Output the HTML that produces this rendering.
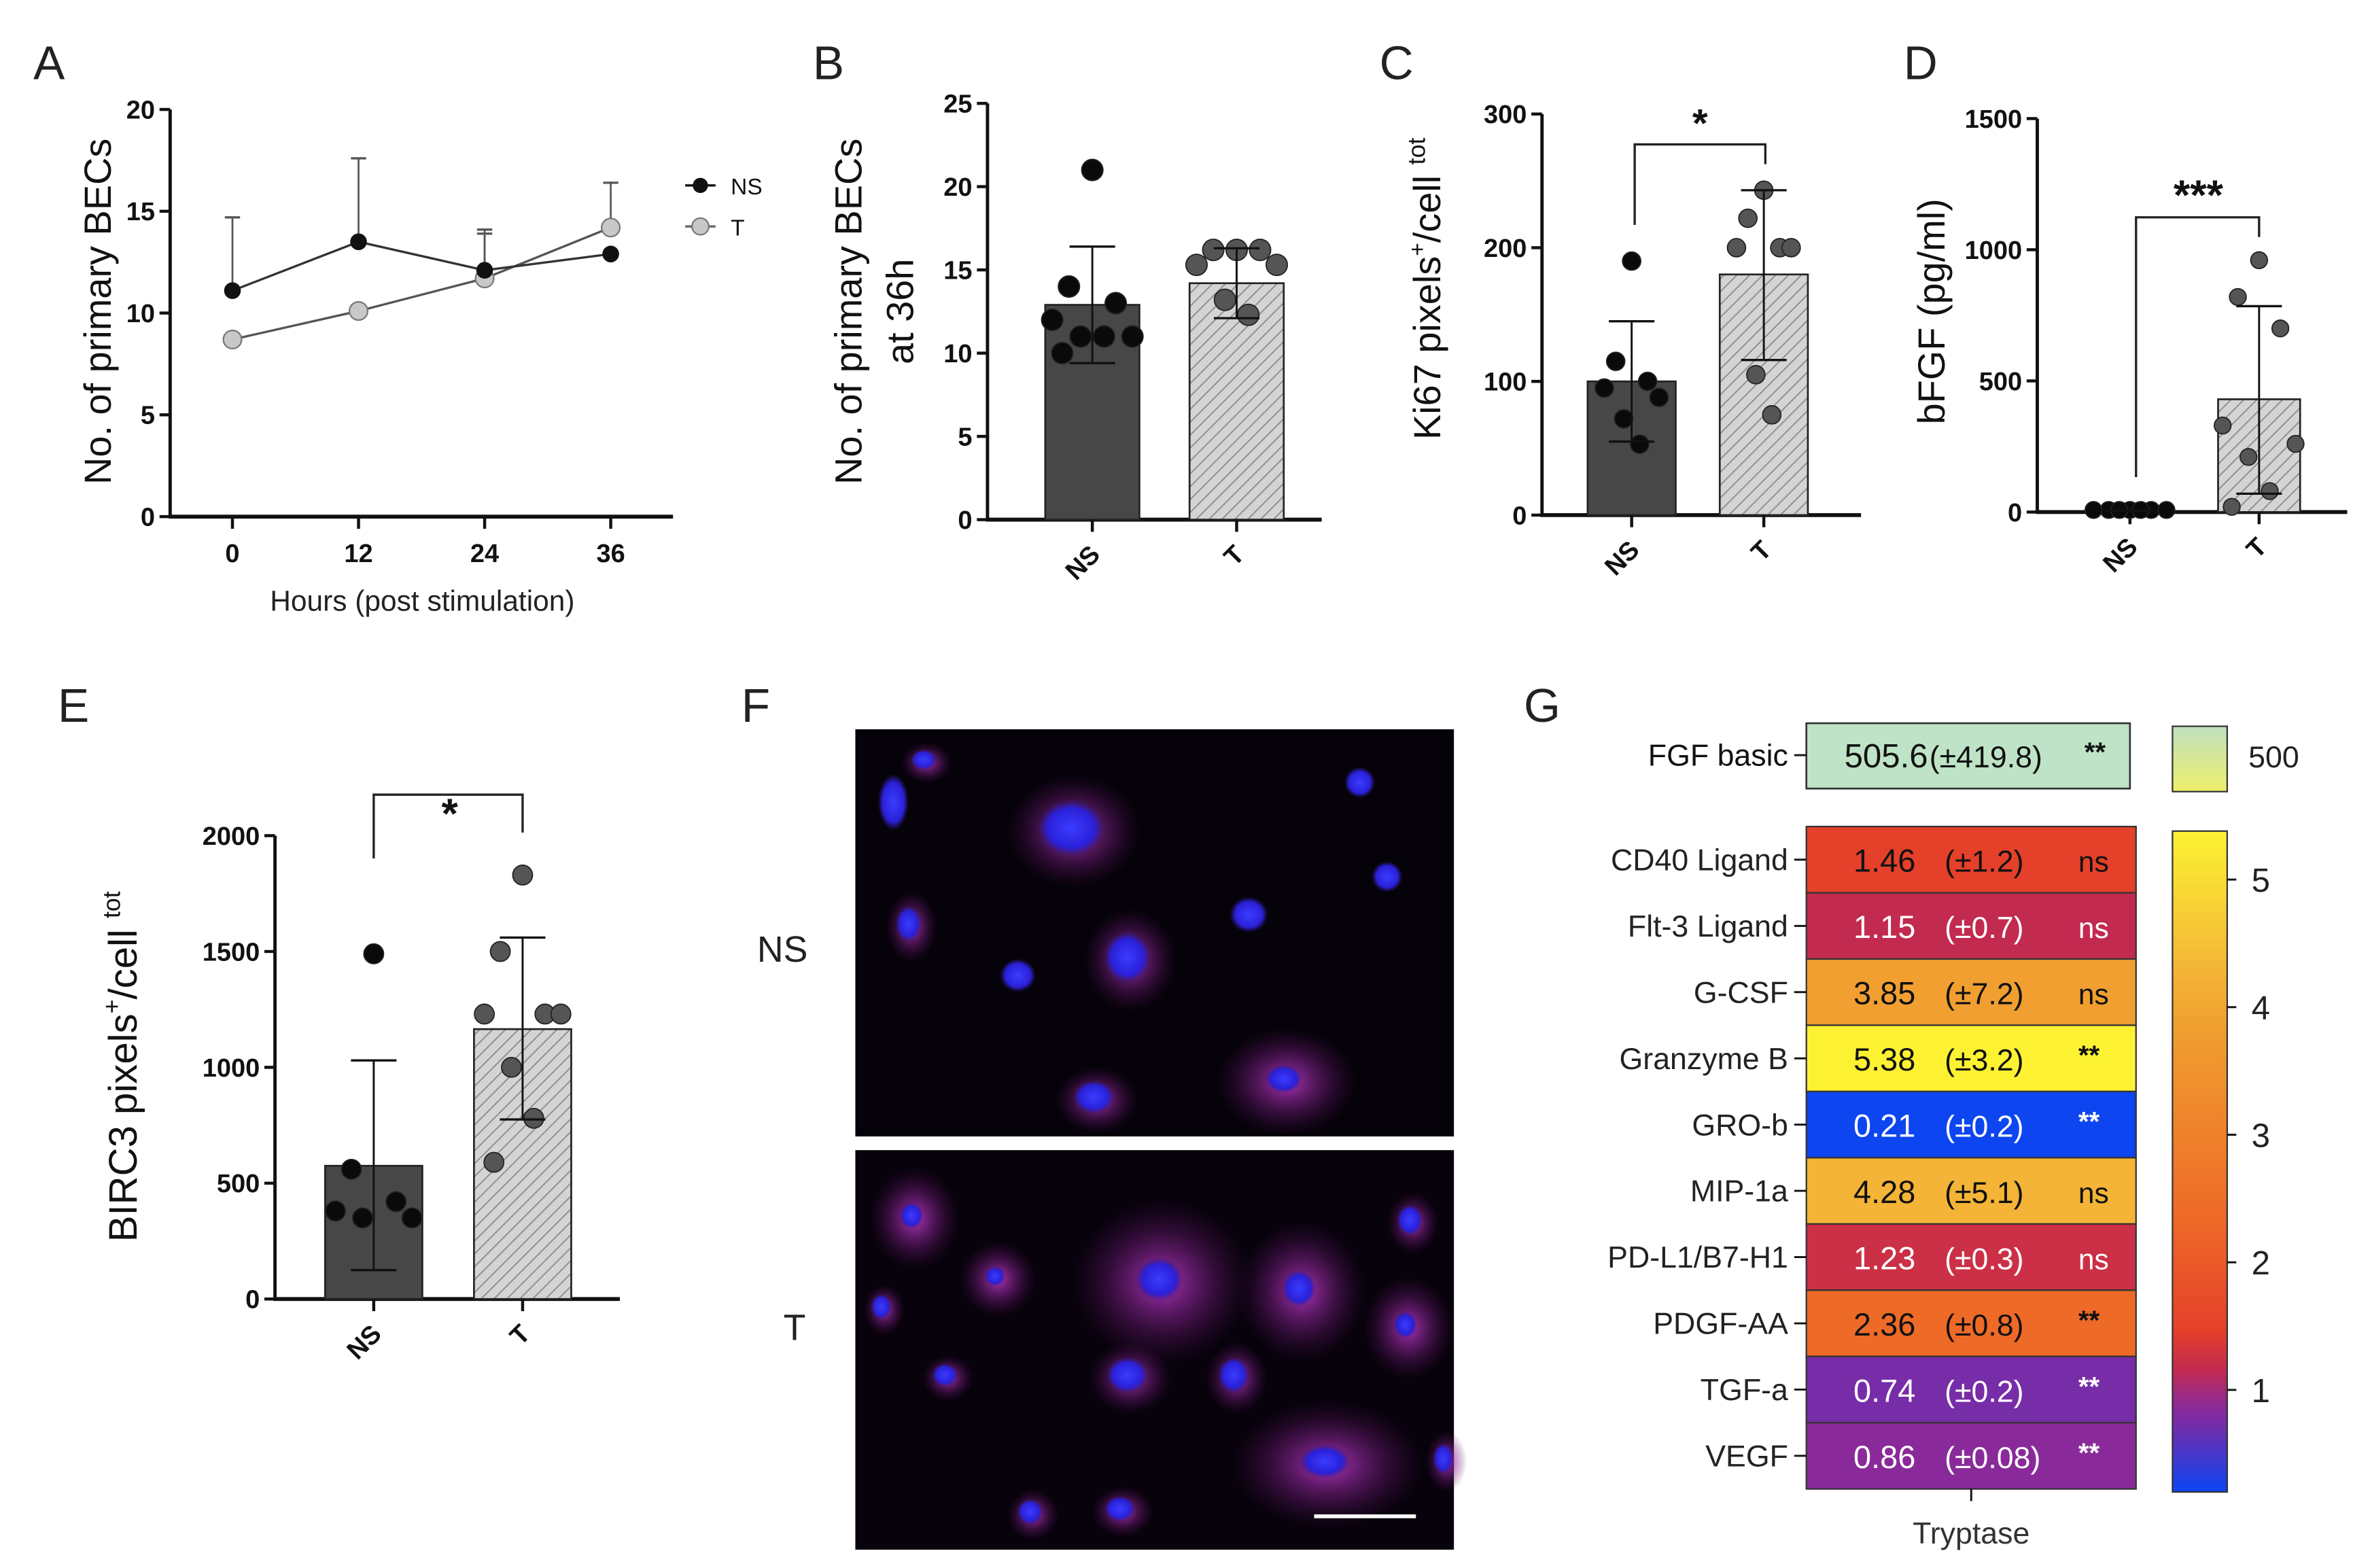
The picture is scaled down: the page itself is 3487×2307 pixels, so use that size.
<!DOCTYPE html>
<html><head><meta charset="utf-8"><style>
html,body{margin:0;padding:0;background:#fff;}
svg{display:block;font-family:"Liberation Sans",Arial,sans-serif;}
</style></head><body>
<svg id="fig" width="3487" height="2307" viewBox="0 0 1560 1032" xmlns="http://www.w3.org/2000/svg">
<defs>
<pattern id="hatch" patternUnits="userSpaceOnUse" width="6" height="6" patternTransform="rotate(45)">
<rect width="6" height="6" fill="#d4d4d4"/><line x1="0" y1="0" x2="0" y2="6" stroke="#8a8a8a" stroke-width="1.6"/>
</pattern>
<radialGradient id="cellMag" cx="50%" cy="50%" r="50%"><stop offset="0%" stop-color="#c03ad0" stop-opacity="0.9"/><stop offset="100%" stop-color="#5a1060" stop-opacity="0"/></radialGradient>
<radialGradient id="cellBlue" cx="50%" cy="50%" r="50%"><stop offset="0%" stop-color="#3a3cff"/><stop offset="70%" stop-color="#2a20d8"/><stop offset="100%" stop-color="#301890" stop-opacity="0"/></radialGradient>
<linearGradient id="smallbar" x1="0" y1="0" x2="0" y2="1"><stop offset="0%" stop-color="#bfe0c0"/><stop offset="100%" stop-color="#eef06a"/></linearGradient>
</defs>
<g id="root"></g>
</svg>
<script>
// ---------- DATA ----------
const hoursA = [0, 12, 24, 36];
const nsMeanA = [11.1, 13.5, 12.1, 12.9];
const nsErrTopA = [14.7, 17.6, 14.1, 12.9];
const tMeanA = [8.7, 10.1, 11.7, 14.2];
const tErrTopA = [8.7, 10.1, 13.9, 16.4];
const ticksA = [0, 5, 10, 15, 20];

const ticksB = [0, 5, 10, 15, 20, 25];
const meansB = [12.9, 14.2];
const errLoB = [9.4, 12.1];
const errHiB = [16.4, 16.3];
const ptsBNS = [21, 14, 13, 12, 11, 11, 11, 10];
const ptsBT = [16.2, 16.2, 16.2, 15.3, 15.3, 13.2, 12.3];

const ticksC = [0, 100, 200, 300];
const meansC = [100, 180];
const errLoC = [55, 116];
const errHiC = [145, 243];
const ptsCNS = [190, 115, 100, 95, 88, 72, 53];
const ptsCT = [243, 222, 200, 200, 200, 105, 75];

const ticksD = [0, 500, 1000, 1500];
const meansD = [6, 430];
const errLoD = [6, 70];
const errHiD = [6, 785];
const ptsDNS = [8, 8, 8, 8, 8, 8, 8];
const ptsDT = [960, 820, 700, 330, 260, 210, 80, 20];

const ticksE = [0, 500, 1000, 1500, 2000];
const meansE = [575, 1165];
const errLoE = [125, 775];
const errHiE = [1030, 1560];
const ptsENS = [1490, 560, 420, 380, 350, 350];
const ptsET = [1830, 1500, 1230, 1230, 1230, 1000, 780, 590];

const rowsG = ["CD40 Ligand","Flt-3 Ligand","G-CSF","Granzyme B","GRO-b","MIP-1a","PD-L1/B7-H1","PDGF-AA","TGF-a","VEGF"];
const valsG = [1.46, 1.15, 3.85, 5.38, 0.21, 4.28, 1.23, 2.36, 0.74, 0.86];
const sdG = ["±1.2","±0.7","±7.2","±3.2","±0.2","±5.1","±0.3","±0.8","±0.2","±0.08"];
const sigG = ["ns","ns","ns","**","**","ns","ns","**","**","**"];
const cbTicksG = [1, 2, 3, 4, 5];

// ---------- HELPERS ----------
const SVGNS = "http://www.w3.org/2000/svg";
const root = document.getElementById('root');
function mk(tag, attrs, name, parent) {
  const el = document.createElementNS(SVGNS, tag);
  for (const k in attrs) el.setAttribute(k, attrs[k]);
  
  
  (parent || root).appendChild(el);
  return el;
}
function tx(x, y, s, size, name, extra, parent) {
  const a = Object.assign({x: x, y: y, 'font-size': size, fill: '#111'}, extra || {});
  const el = mk('text', a, name, parent);
  el.textContent = s;
  return el;
}
function ln(x1, y1, x2, y2, w, name, col, parent) {
  return mk('line', {x1: x1, y1: y1, x2: x2, y2: y2, stroke: col || '#111', 'stroke-width': w}, name, parent);
}
function yAxis(ax, y0, ytop, vmax, ticks, fmt, name) {
  const sc = v => y0 - v * (y0 - ytop) / vmax;
  ln(ax, y0 + 1, ax, ytop, 2.2, name + '-line');
  ticks.forEach(t => {
    ln(ax - 7, sc(t), ax, sc(t), 2, name + '-tick');
    tx(ax - 10, sc(t) + 6, String(t), 17, name + '-tick-label', {'text-anchor': 'end', 'font-weight': 'bold'});
  });
  return sc;
}
function jitter(i) { const o = [0, -14, 14, -24, 24, -7, 7, -18, 18]; return o[i % o.length]; }
function barPanel(p) {
  const sc = yAxis(p.ax, p.y0, p.ytop, p.vmax, p.ticks, null, p.name + '-y-axis');
  ln(p.ax - 1, p.y0, p.xend, p.y0, 2.6, p.name + '-x-axis');
  p.cx.forEach((c, i) => {
    const top = sc(p.means[i]);
    mk('rect', {x: c - p.hw, y: top, width: 2 * p.hw, height: p.y0 - top,
      fill: i === 0 ? '#474747' : 'url(#hatch)', stroke: '#222', 'stroke-width': 1.2}, p.name + (i === 0 ? '-bar-ns' : '-bar-t'));
    ln(c, p.y0, c, p.y0 + 8, 2, p.name + '-x-tick');
    const pts = i === 0 ? p.ptsNS : p.ptsT;
    pts.forEach((v, j) => {
      mk('circle', {cx: c + jitter(j) * p.spread, cy: sc(v), r: p.r, fill: i === 0 ? '#0a0a0a' : '#555', stroke: '#222', 'stroke-width': 0.8}, p.name + (i === 0 ? '-point-ns' : '-point-t'));
    });
    ln(c, sc(p.lo[i]), c, sc(p.hi[i]), 1.3, p.name + '-error-bar');
    ln(c - 15, sc(p.hi[i]), c + 15, sc(p.hi[i]), 1.5, p.name + '-error-cap');
    ln(c - 15, sc(p.lo[i]), c + 15, sc(p.lo[i]), 1.5, p.name + '-error-cap');
    const lab = i === 0 ? 'NS' : 'T';
    tx(c + 6, p.y0 + 24, lab, 17, p.name + '-x-label', {'text-anchor': 'end', 'font-weight': 'bold', transform: 'rotate(-45 ' + (c + 6) + ' ' + (p.y0 + 24) + ')'});
  });
  return sc;
}

// ---------- PANEL LETTERS ----------
[['A',22,52],['B',535,52],['C',908,52],['D',1253,52],['E',38,475],['F',488,475],['G',1003,475]].forEach(l => {
  tx(l[1], l[2], l[0], 31, 'panel-label-' + l[0].toLowerCase(), {fill: '#222'});
});

// ---------- PANEL A ----------
(function () {
  const ax = 112, y0 = 340, ytop = 72;
  const sy = yAxis(ax, y0, ytop, 20, ticksA, null, 'a-y-axis');
  const sx = h => 153 + h * (249 / 36);
  ln(ax - 1, y0, 443, y0, 2.6, 'a-x-axis');
  hoursA.forEach(h => {
    ln(sx(h), y0, sx(h), y0 + 8, 2, 'a-x-tick');
    tx(sx(h), y0 + 30, String(h), 17, 'a-x-tick-label', {'text-anchor': 'middle', 'font-weight': 'bold'});
  });
  tx(278, 402, 'Hours (post stimulation)', 19, 'a-x-axis-title', {'text-anchor': 'middle', fill: '#222'});
  tx(0, 0, 'No. of primary BECs', 25, 'a-y-axis-title', {'text-anchor': 'middle', transform: 'translate(73 205) rotate(-90)'});
  [[nsMeanA, nsErrTopA], [tMeanA, tErrTopA]].forEach((s, k) => {
    s[0].forEach((v, i) => {
      if (s[1][i] > v) {
        ln(sx(hoursA[i]), sy(v), sx(hoursA[i]), sy(s[1][i]), 1.2, 'a-error-bar', '#555');
        ln(sx(hoursA[i]) - 5, sy(s[1][i]), sx(hoursA[i]) + 5, sy(s[1][i]), 1.5, 'a-error-cap', '#555');
      }
    });
  });
  const pathFor = arr => arr.map((v, i) => (i ? 'L' : 'M') + sx(hoursA[i]) + ' ' + sy(v)).join(' ');
  mk('path', {d: pathFor(tMeanA), fill: 'none', stroke: '#555', 'stroke-width': 1.5}, 'a-line-t');
  mk('path', {d: pathFor(nsMeanA), fill: 'none', stroke: '#333', 'stroke-width': 1.5}, 'a-line-ns');
  tMeanA.forEach((v, i) => mk('circle', {cx: sx(hoursA[i]), cy: sy(v), r: 6, fill: '#c8c8c8', stroke: '#777', 'stroke-width': 1}, 'a-point-t'));
  nsMeanA.forEach((v, i) => mk('circle', {cx: sx(hoursA[i]), cy: sy(v), r: 5.5, fill: '#111'}, 'a-point-ns'));
  ln(451, 122, 471, 122, 1.5, 'a-legend-line-ns');
  mk('circle', {cx: 461, cy: 122, r: 5, fill: '#111'}, 'a-legend-marker-ns');
  tx(481, 128, 'NS', 15, 'a-legend-label-ns');
  ln(451, 149, 471, 149, 1.5, 'a-legend-line-t', '#666');
  mk('circle', {cx: 461, cy: 149, r: 5.5, fill: '#c8c8c8', stroke: '#777'}, 'a-legend-marker-t');
  tx(481, 155, 'T', 15, 'a-legend-label-t');
})();

// ---------- PANEL B ----------
barPanel({name: 'b', ax: 650, y0: 342, ytop: 68, vmax: 25, ticks: ticksB, xend: 870, cx: [719, 814], hw: 31,
  means: meansB, lo: errLoB, hi: errHiB, ptsNS: ptsBNS, ptsT: ptsBT, r: 7, spread: 1.1});
tx(0, 0, 'No. of primary BECs', 25, 'b-y-axis-title-line1', {'text-anchor': 'middle', transform: 'translate(567 205) rotate(-90)'});
tx(0, 0, 'at 36h', 25, 'b-y-axis-title-line2', {'text-anchor': 'middle', transform: 'translate(601 205) rotate(-90)'});

// ---------- PANEL C ----------
(function () {
  const sc = barPanel({name: 'c', ax: 1015, y0: 339, ytop: 75, vmax: 300, ticks: ticksC, xend: 1225, cx: [1074, 1161], hw: 29,
    means: meansC, lo: errLoC, hi: errHiC, ptsNS: ptsCNS, ptsT: ptsCT, r: 6, spread: 0.75});
  const t = tx(0, 0, '', 25, 'c-y-axis-title', {'text-anchor': 'middle', transform: 'translate(948 190) rotate(-90)'});
  t.innerHTML = 'Ki67 pixels<tspan font-size="15" dy="-10">+</tspan><tspan dy="10">/cell </tspan><tspan font-size="16" dy="-10">tot</tspan>';
  const by = 95;
  mk('path', {d: 'M1076 148 L1076 ' + by + ' L1162 ' + by + ' L1162 108', fill: 'none', stroke: '#222', 'stroke-width': 1.5}, 'c-significance-bracket');
  tx(1119, 90, '*', 26, 'c-significance-star', {'text-anchor': 'middle', 'font-weight': 'bold'});
})();

// ---------- PANEL D ----------
(function () {
  barPanel({name: 'd', ax: 1341, y0: 337, ytop: 78, vmax: 1500, ticks: ticksD, xend: 1545, cx: [1402, 1487], hw: 27,
    means: meansD, lo: errLoD, hi: errHiD, ptsNS: ptsDNS, ptsT: ptsDT, r: 5.5, spread: 1.0});
  tx(0, 0, 'bFGF (pg/ml)', 25, 'd-y-axis-title', {'text-anchor': 'middle', transform: 'translate(1280 205) rotate(-90)'});
  mk('path', {d: 'M1406 314 L1406 143 L1487 143 L1487 156', fill: 'none', stroke: '#222', 'stroke-width': 1.5}, 'd-significance-bracket');
  tx(1447, 138, '***', 28, 'd-significance-stars', {'text-anchor': 'middle', 'font-weight': 'bold'});
})();

// ---------- PANEL E ----------
(function () {
  barPanel({name: 'e', ax: 181, y0: 855, ytop: 550, vmax: 2000, ticks: ticksE, xend: 408, cx: [246, 344], hw: 32,
    means: meansE, lo: errLoE, hi: errHiE, ptsNS: ptsENS, ptsT: ptsET, r: 6.5, spread: 1.05});
  const t = tx(0, 0, '', 26, 'e-y-axis-title', {'text-anchor': 'middle', transform: 'translate(90 702) rotate(-90)'});
  t.innerHTML = 'BIRC3 pixels<tspan font-size="16" dy="-11">+</tspan><tspan dy="11">/cell </tspan><tspan font-size="16" dy="-11">tot</tspan>';
  mk('path', {d: 'M246 565 L246 523 L344 523 L344 548', fill: 'none', stroke: '#222', 'stroke-width': 1.5}, 'e-significance-bracket');
  tx(296, 545, '*', 28, 'e-significance-star', {'text-anchor': 'middle', 'font-weight': 'bold'});
})();

// ---------- PANEL F (micrographs) ----------
(function () {
  mk('rect', {x: 563, y: 480, width: 394, height: 268, fill: '#06020a'}, 'f-image-ns');
  mk('rect', {x: 563, y: 757, width: 394, height: 263, fill: '#08020c'}, 'f-image-t');
  const cellsNS = [[588,528,12,22,0],[705,545,26,22,1],[895,515,12,12,0],[913,577,12,12,0],[822,602,15,14,0],[742,630,18,20,1],[670,642,14,13,0],[720,722,16,13,1],[845,710,22,17,2],[598,608,10,14,1],[608,500,10,8,1]];
  const cellsT = [[600,800,14,16,2],[655,840,12,12,2],[763,842,28,26,2],[855,848,20,22,2],[928,803,10,12,1],[925,872,14,16,2],[742,905,16,14,1],[622,905,10,9,1],[812,905,12,14,1],[872,962,30,20,2],[737,993,12,10,1],[678,995,10,10,1],[580,860,8,10,1],[950,960,8,12,1]];
  [[cellsNS, 'f-cell-ns'], [cellsT, 'f-cell-t']].forEach(set => {
    set[0].forEach(c => {
      const m = c[4];
      if (m > 0) mk('ellipse', {cx: c[0] + 2, cy: c[1] + 2, rx: c[2] * (1.3 + 0.4 * m), ry: c[3] * (1.3 + 0.4 * m), fill: 'url(#cellMag)'}, set[1] + '-cytoplasm');
      mk('ellipse', {cx: c[0], cy: c[1], rx: c[2] * (m === 2 ? 0.55 : 0.85), ry: c[3] * (m === 2 ? 0.55 : 0.85), fill: 'url(#cellBlue)'}, set[1] + '-nucleus');
    });
  });
  ln(865, 998, 932, 998, 2.5, 'f-scale-bar', '#fff');
  tx(515, 633, 'NS', 24, 'f-row-label-ns', {'text-anchor': 'middle', fill: '#222'});
  tx(523, 882, 'T', 24, 'f-row-label-t', {'text-anchor': 'middle', fill: '#222'});
})();

// ---------- PANEL G (heatmap) ----------
const cmapVals = [0.2, 0.74, 0.86, 1.15, 1.46, 2.36, 3.85, 4.28, 5.38];
const cmapCols = ['#0b45f2', '#772ca8', '#8a2a9a', '#c22a50', '#e4402a', '#ee6a27', '#f09f30', '#f4b437', '#fcf232'];
function hex2rgb(h) { return [1, 3, 5].map(i => parseInt(h.substr(i, 2), 16)); }
function cmap(v) {
  if (v <= cmapVals[0]) return cmapCols[0];
  for (let i = 1; i < cmapVals.length; i++) {
    if (v <= cmapVals[i]) {
      const f = (v - cmapVals[i - 1]) / (cmapVals[i] - cmapVals[i - 1]);
      const a = hex2rgb(cmapCols[i - 1]), b = hex2rgb(cmapCols[i]);
      return 'rgb(' + a.map((x, k) => Math.round(x + (b[k] - x) * f)).join(',') + ')';
    }
  }
  return cmapCols[cmapCols.length - 1];
}
(function () {
  const x0 = 1189, x1 = 1406, top = 544, bot = 980;
  const rh = (bot - top) / rowsG.length;
  // FGF basic
  mk('rect', {x: x0, y: 476, width: 213, height: 43, fill: '#bfe3c6', stroke: '#333', 'stroke-width': 1.2}, 'g-fgf-basic-cell');
  ln(x0 - 8, 497, x0, 497, 1.3, 'g-row-tick');
  tx(x0 - 12, 504, 'FGF basic', 20, 'g-row-label-fgf-basic', {'text-anchor': 'end'});
  tx(1214, 505, '505.6', 22, 'g-fgf-value', {});
  tx(1270, 505, '(±419.8)', 20, 'g-fgf-sd', {});
  tx(1372, 501, '**', 18, 'g-fgf-sig', {'font-weight': 'bold'});
  valsG.forEach((v, i) => {
    const y = top + i * rh;
    const light = v < 1.3;
    const fc = light ? '#fff' : '#111';
    mk('rect', {x: x0, y: y, width: x1 - x0, height: rh, fill: cmap(v), stroke: '#333', 'stroke-width': 1}, 'g-heatmap-cell');
    ln(x0 - 8, y + rh / 2, x0, y + rh / 2, 1.3, 'g-row-tick');
    tx(x0 - 12, y + rh / 2 + 7, rowsG[i], 20, 'g-row-label', {'text-anchor': 'end', fill: '#222'});
    tx(1220, y + rh / 2 + 8, v.toFixed(2), 21, 'g-cell-value', {fill: fc});
    tx(1280, y + rh / 2 + 8, '(' + sdG[i] + ')', 20, 'g-cell-sd', {fill: fc});
    if (sigG[i] === 'ns') tx(1368, y + rh / 2 + 8, 'ns', 19, 'g-cell-sig', {fill: fc});
    else tx(1368, y + rh / 2 + 4, '**', 18, 'g-cell-sig', {fill: fc, 'font-weight': 'bold'});
  });
  ln((x0 + x1) / 2, bot, (x0 + x1) / 2, bot + 8, 1.3, 'g-x-tick');
  tx((x0 + x1) / 2, 1016, 'Tryptase', 20, 'g-x-label', {'text-anchor': 'middle', fill: '#333'});
  // colorbars
  mk('rect', {x: 1430, y: 478, width: 36, height: 43, fill: 'url(#smallbar)', stroke: '#333', 'stroke-width': 1}, 'g-colorbar-fgf');
  tx(1480, 505, '500', 20, 'g-colorbar-fgf-label', {fill: '#222'});
  const cbTop = 547, cbBot = 982, vmin = 0.2, vmax = 5.38;
  const cy = v => cbBot - (v - vmin) * (cbBot - cbTop) / (vmax - vmin);
  const grad = mk('linearGradient', {id: 'cbgrad', x1: 0, y1: 1, x2: 0, y2: 0}, 'g-colorbar-gradient', document.querySelector('defs'));
  cmapVals.forEach((v, i) => mk('stop', {offset: ((v - vmin) / (vmax - vmin)), 'stop-color': cmapCols[i]}, 'g-colorbar-stop', grad));
  mk('rect', {x: 1430, y: cbTop, width: 36, height: cbBot - cbTop, fill: 'url(#cbgrad)', stroke: '#333', 'stroke-width': 1}, 'g-colorbar');
  cbTicksG.forEach(t => {
    ln(1466, cy(t), 1472, cy(t), 1.3, 'g-colorbar-tick');
    tx(1482, cy(t) + 8, String(t), 22, 'g-colorbar-tick-label', {fill: '#222'});
  });
})();
</script>
</body></html>
